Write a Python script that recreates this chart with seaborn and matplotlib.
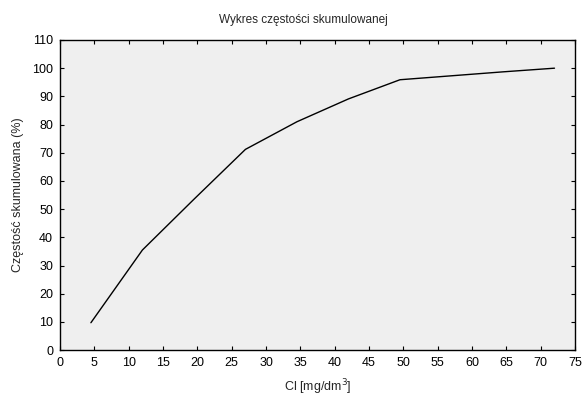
import seaborn as sns
import matplotlib.pyplot as plt
import pandas as pd

# Data
cl = [4.5, 12.0, 19.5, 27.0, 34.5, 42.0, 49.5, 57.0, 64.5, 72.0]
cum_pct = [9.7, 35.5, 53.5, 71.2, 81.0, 89.1, 95.9, 97.3, 98.7, 100.0]
x_ticks = list(range(0, 80, 5))
y_ticks = list(range(0, 120, 10))

df = pd.DataFrame({"cl": cl, "cum": cum_pct})

sns.set_theme(style="ticks")
plt.rcParams["font.family"] = ["Liberation Sans", "DejaVu Sans"]
plt.rcParams["font.size"] = 9

fig = plt.figure(figsize=(5.86, 3.96), dpi=100)
ax = fig.add_axes([0.1024, 0.116, 0.879, 0.783])
ax.set_facecolor("#efefef")

sns.lineplot(data=df, x="cl", y="cum", ax=ax, color="black", linewidth=1.0)

ax.set_xlim(0, 75)
ax.set_ylim(0, 110)
ax.set_xticks(x_ticks)
ax.set_yticks(y_ticks)
ax.tick_params(direction="in", top=True, right=True, length=3, width=0.8,
               labelsize=9, colors="black", pad=5)
for s in ax.spines.values():
    s.set_color("black")
    s.set_linewidth(1.0)

# title sits a bit left of the axes centre in the original
fig.text(0.517, 0.949, "Wykres częstości skumulowanej", fontsize=8.5,
         ha="center", va="center")
ax.set_xlabel("Cl [mg/dm$^3$]", fontsize=9, labelpad=6)
ax.set_ylabel("Częstość skumulowana (%)", fontsize=9, labelpad=6)

fig.savefig("out.png", dpi=100)
